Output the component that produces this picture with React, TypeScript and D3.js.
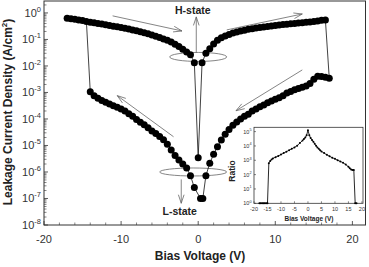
import React from 'react';
import * as d3 from 'd3';

// ---------- Data (log10 of leakage current density, A/cm^2) ----------
const hSweepV = [
  -17, -16.5, -16, -15.5, -15, -14.5, -14, -13.5, -13, -12.5, -12, -11.5, -11, -10.5, -10, -9.5, -9, -8.5,
  -8, -7.5, -7, -6.5, -6, -5.5, -5, -4.5, -4, -3.5, -3, -2.5, -2, -1.5, -1, -0.5,
  0,
  0.5, 1, 1.5, 2, 2.5, 3, 3.5, 4, 4.5, 5, 5.5, 6, 6.5, 7, 7.5, 8, 8.5, 9, 9.5, 10, 10.5, 11, 11.5, 12,
  12.5, 13, 13.5, 14, 14.5, 15, 15.5, 16, 16.5,
];
const hSweepLogJ = [
  -0.2, -0.22, -0.24, -0.27, -0.29, -0.32, -0.35, -0.37, -0.4, -0.42, -0.45, -0.47, -0.5, -0.52, -0.55, -0.58, -0.61, -0.64,
  -0.67, -0.71, -0.75, -0.79, -0.83, -0.88, -0.93, -0.98, -1.03, -1.1, -1.18, -1.27, -1.37, -1.47, -1.58, -1.88,
  -5.46,
  -1.88, -1.52, -1.35, -1.17, -1.03, -0.94, -0.87, -0.81, -0.76, -0.72, -0.68, -0.65, -0.62, -0.6, -0.57, -0.55, -0.53, -0.51, -0.49, -0.47, -0.46, -0.44, -0.43, -0.41,
  -0.4, -0.38, -0.37, -0.35, -0.34, -0.32, -0.3, -0.28, -0.27,
];
const lSweepV = [
  17, 16.5, 16, 15.5, 15, 14.5, 14, 13.5, 13, 12.5, 12, 11.5, 11, 10.5, 10, 9.5, 9, 8.5, 8, 7.5, 7, 6.5, 6,
  5.5, 5, 4.5, 4, 3.5, 3, 2.5, 2, 1.5, 1, 0.6, 0.3,
  -0.5, -1, -1.5, -2, -2.5, -3, -3.5, -4, -4.5, -5, -5.5, -6, -6.5, -7, -7.5, -8, -8.5, -9, -9.5, -10,
  -10.5, -11, -11.5, -12, -12.5, -13, -13.5, -14,
];
const lSweepLogJ = [
  -2.46, -2.43, -2.4, -2.39, -2.5, -2.66, -2.76, -2.8, -2.85, -2.9, -2.96, -3.02, -3.12, -3.2, -3.26, -3.32, -3.39, -3.47, -3.54, -3.62, -3.7, -3.82, -3.9,
  -4.0, -4.11, -4.24, -4.4, -4.58, -4.79, -5.05, -5.33, -5.67, -6.14, -7.0, -7.0,
  -6.59, -6.14, -5.85, -5.7, -5.55, -5.38, -5.17, -4.95, -4.78, -4.66, -4.55, -4.45, -4.33, -4.22, -4.12, -4.02, -3.9, -3.8, -3.7, -3.62,
  -3.56, -3.5, -3.44, -3.37, -3.3, -3.22, -3.12, -2.97,
];
// Inset: on/off ratio (log10)
const ratioV = [
  -18, -17.5, -17, -16.5, -16, -15.5, -15, -14.5, -14, -13.5, -13, -12, -11, -10, -9, -8, -7, -6, -5, -4, -3, -2, -1.5, -1, -0.5,
  0, 0.5, 1, 1.5, 2, 2.5, 3, 3.5, 4, 4.5, 5, 6, 7, 8, 9, 10, 11, 12, 13, 14, 15, 15.5, 16, 16.5, 17, 17.5, 18,
];
const ratioLog = [
  0, 0, 0, 0, 0, 0, 0, 2.8, 2.95, 3.05, 3.13, 3.22, 3.3, 3.4, 3.5, 3.6, 3.7, 3.8, 3.9, 4.02, 4.2, 4.38, 4.48, 4.58, 4.75,
  5.1, 4.75, 4.55, 4.42, 4.3, 4.15, 4.02, 3.9, 3.8, 3.7, 3.62, 3.5, 3.38, 3.28, 3.18, 3.1, 3.0, 2.92, 2.83, 2.7, 2.55, 2.45, 2.35, 2.33, 2.33, 0, 0,
];

const xTicks = [-20, -10, 0, 10, 20];
const yTickExp = [-8, -7, -6, -5, -4, -3, -2, -1, 0];
const insetXTicks = [-20, -15, -10, -5, 0, 5, 10, 15, 20];
const insetYExp = [0, 1, 2, 3, 4, 5];

// annotation arrows [V1, logJ1, V2, logJ2] (head at the second point)
const arrows = [
  [-11.1, -0.11, -2.1, -0.68],
  [3.7, -0.64, 13.5, -0.04],
  [13.5, -2.15, 4.9, -3.69],
  [-3.2, -4.67, -10.5, -3.12],
  [-0.25, -1.51, -0.25, -0.15],
  [-2.2, -6.28, -2.2, -7.18],
];

const FONT = '"Liberation Sans", Arial, Helvetica, sans-serif';

export default function App() {
  const W = 369, H = 267;
  const x = d3.scaleLinear().domain([-20, 21.7]).range([44, 365.5]);
  const yLog = d3.scaleLinear().domain([-8, 0.45]).range([225, 1]);
  const ix = d3.scaleLinear().domain([-20, 20.4]).range([254, 363]);
  const iyLog = d3.scaleLinear().domain([0, 5.3]).range([203.3, 127.3]);

  const hPts: [number, number][] = hSweepV.map((v, i) => [v, hSweepLogJ[i]]);
  const lPts: [number, number][] = lSweepV.map((v, i) => [v, lSweepLogJ[i]]);
  const line = d3.line<[number, number]>().x(d => x(d[0])).y(d => yLog(d[1]));
  // full loop: H sweep -> drop at +V -> L sweep -> jump at -V back to H
  const jumpBack = hPts[hSweepV.indexOf(-14.5)];
  const loopPath = line([...hPts, ...lPts, jumpBack]);

  const rPts: [number, number][] = ratioV.map((v, i) => [v, ratioLog[i]]);
  const rLine = d3.line<[number, number]>().x(d => ix(d[0])).y(d => iyLog(d[1]));

  const arrowEl = (a: number[], i: number) => {
    const x1 = x(a[0]), y1 = yLog(a[1]), x2 = x(a[2]), y2 = yLog(a[3]);
    const ang = Math.atan2(y2 - y1, x2 - x1);
    const L = 9, s = 0.32;
    const p1 = [x2 - L * Math.cos(ang - s), y2 - L * Math.sin(ang - s)];
    const p2 = [x2 - L * Math.cos(ang + s), y2 - L * Math.sin(ang + s)];
    return (
      <g key={'a' + i} stroke="#666" strokeWidth={0.8} fill="none">
        <line x1={x1} y1={y1} x2={x2} y2={y2} />
        <polyline points={`${p1[0]},${p1[1]} ${x2},${y2} ${p2[0]},${p2[1]}`} />
      </g>
    );
  };

  // minor ticks for main log axis
  const minorY: number[] = [];
  for (let e = -8; e <= 0; e++) for (let k = 2; k <= 9; k++) {
    const l = e + Math.log10(k);
    if (l <= 0.45) minorY.push(l);
  }
  const minorX = d3.range(-20, 22, 2).filter(v => v % 10 !== 0);

  return (
    <svg width={W} height={H} style={{ position: 'absolute', left: 0, top: 0, background: '#fff' }} fontFamily={FONT}>
      <rect x={0} y={0} width={W} height={H} fill="#fff" />
      {/* main frame */}
      <rect x={44} y={1} width={321.5} height={224} fill="none" stroke="#333" strokeWidth={1} />
      {/* y ticks */}
      {yTickExp.map(e => (
        <g key={'yt' + e}>
          <line x1={44} x2={48} y1={yLog(e)} y2={yLog(e)} stroke="#333" strokeWidth={0.8} />
          <text x={41} y={yLog(e) + 4} textAnchor="end" fontSize={11} fill="#333">
            10<tspan dy={-5} fontSize={7.5}>{e}</tspan>
          </text>
        </g>
      ))}
      {minorY.map((l, i) => (
        <line key={'ym' + i} x1={44} x2={46.5} y1={yLog(l)} y2={yLog(l)} stroke="#333" strokeWidth={0.6} />
      ))}
      {/* x ticks */}
      {xTicks.map(v => (
        <g key={'xt' + v}>
          <line x1={x(v)} x2={x(v)} y1={225} y2={221} stroke="#333" strokeWidth={0.8} />
          <text x={x(v)} y={243} textAnchor="middle" fontSize={11} fill="#333">{v}</text>
        </g>
      ))}
      {minorX.map(v => (
        <line key={'xm' + v} x1={x(v)} x2={x(v)} y1={225} y2={222.5} stroke="#333" strokeWidth={0.6} />
      ))}
      {/* axis titles */}
      <text x={200} y={260} textAnchor="middle" fontSize={12} fontWeight="bold" fill="#222">Bias Voltage (V)</text>
      <text transform="translate(12,112) rotate(-90)" textAnchor="middle" fontSize={12} fontWeight="bold" fill="#222">
        Leakage Current Density (A/cm<tspan dy={-5} fontSize={8}>2</tspan><tspan dy={5}>)</tspan>
      </text>

      {/* ellipses */}
      <ellipse cx={x(0)} cy={yLog(-1.66)} rx={28.5} ry={4.5} fill="none" stroke="#666" strokeWidth={0.8} />
      <ellipse cx={x(-0.65)} cy={yLog(-6.0)} rx={33.5} ry={4} fill="none" stroke="#666" strokeWidth={0.8} />
      {/* arrows */}
      {arrows.map(arrowEl)}
      {/* data */}
      <path d={loopPath || ''} fill="none" stroke="#111" strokeWidth={0.8} />
      {[...hPts, ...lPts].map((d, i) => (
        <circle key={'p' + i} cx={x(d[0])} cy={yLog(d[1])} r={3.5} fill="#000" />
      ))}
      {/* state labels */}
      <text x={x(-0.7)} y={yLog(-0.04)} textAnchor="middle" fontSize={10.5} fontWeight="bold" fill="#222">H-state</text>
      <text x={x(-2.4)} y={yLog(-7.62)} textAnchor="middle" fontSize={10.5} fontWeight="bold" fill="#222">L-state</text>

      {/* inset */}
      <rect x={254} y={127.3} width={109} height={76} fill="#fff" stroke="#333" strokeWidth={0.8} />
      {insetXTicks.map(v => (
        <g key={'ixt' + v}>
          <line x1={ix(v)} x2={ix(v)} y1={203.3} y2={201.3} stroke="#333" strokeWidth={0.6} />
          <text x={ix(v)} y={211} textAnchor="middle" fontSize={5.5} fill="#333">{v}</text>
        </g>
      ))}
      {insetYExp.map(e => (
        <g key={'iyt' + e}>
          <line x1={254} x2={256} y1={iyLog(e)} y2={iyLog(e)} stroke="#333" strokeWidth={0.6} />
          <text x={251.5} y={iyLog(e) + 2} textAnchor="end" fontSize={5.5} fill="#333">
            10<tspan dy={-2.5} fontSize={3.8}>{e}</tspan>
          </text>
        </g>
      ))}
      <text x={309} y={221} textAnchor="middle" fontSize={6.5} fontWeight="bold" fill="#222">Bias Voltage (V)</text>
      <text transform="translate(235,171) rotate(-90)" textAnchor="middle" fontSize={8.5} fontWeight="bold" fill="#222">Ratio</text>
      <path d={rLine(rPts) || ''} fill="none" stroke="#111" strokeWidth={0.9} />
      {rPts.map((d, i) => (
        <circle key={'r' + i} cx={ix(d[0])} cy={iyLog(d[1])} r={1} fill="#000" />
      ))}
    </svg>
  );
}
